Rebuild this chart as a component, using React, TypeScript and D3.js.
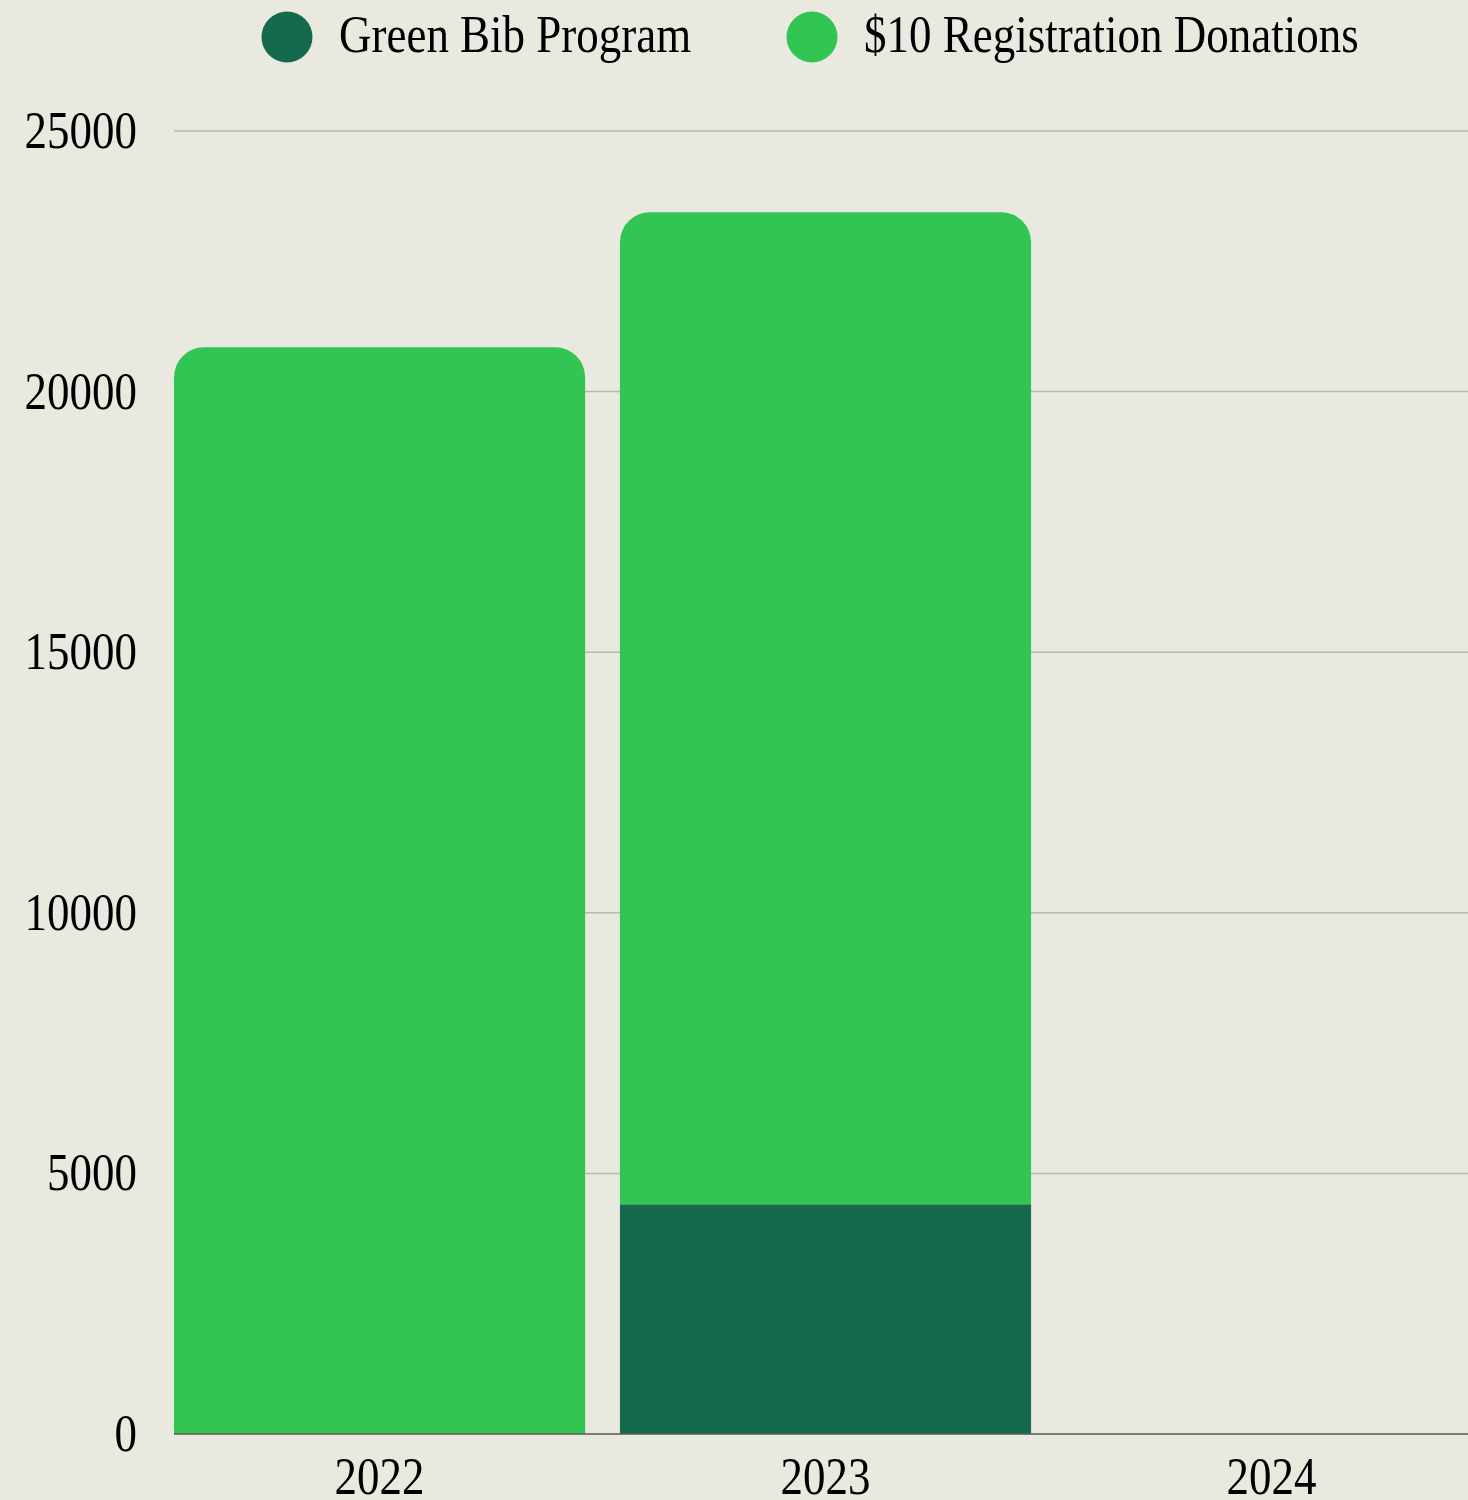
import React, { useRef, useEffect } from 'react';
import * as d3 from 'd3';

// chart values
const years = ['2022', '2023', '2024'];
const greenBib = [0, 4410, 0];
const registration = [20850, 19030, 0];
const yTicks = [0, 5000, 10000, 15000, 20000, 25000];
const seriesNames = ['Green Bib Program', '$10 Registration Donations'];
const seriesColors = ['#15694c', '#32c553'];

const W = 1468;
const H = 1500;
const FONT = '"Liberation Serif", "Times New Roman", serif';
const SQUEEZE = 0.865;

const App: React.FC = () => {
  const ref = useRef<SVGSVGElement>(null);

  useEffect(() => {
    if (!ref.current) return;
    const svg = d3.select(ref.current);
    svg.selectAll('*').remove();

    const left = 174;
    const top = 131;
    const bottom = 1434;

    svg.append('rect').attr('width', W).attr('height', H).attr('fill', '#e9e9e0');

    const x = d3.scaleBand<string>()
      .domain(years)
      .range([left, 1477])
      .paddingInner(0.078)
      .paddingOuter(0);

    const y = d3.scaleLinear().domain([0, 25000]).range([bottom, top]);

    // gridlines
    svg.append('g')
      .selectAll('line')
      .data(yTicks.filter(t => t > 0))
      .join('line')
      .attr('x1', left)
      .attr('x2', W)
      .attr('y1', d => y(d))
      .attr('y2', d => y(d))
      .attr('stroke', '#b9b9b2')
      .attr('stroke-width', 1.5);

    // y tick labels
    svg.append('g')
      .selectAll('text')
      .data(yTicks)
      .join('text')
      .attr('transform', d => `translate(137,${y(d) + 17}) scale(${SQUEEZE},1)`)
      .attr('text-anchor', 'end')
      .attr('font-family', FONT)
      .attr('font-size', 52)
      .attr('fill', '#000')
      .text(d => String(d));

    // stacked bars
    const rows = years.map((yr, i) => ({ year: yr, greenBib: greenBib[i], registration: registration[i] }));
    const stack = d3.stack<any>().keys(['greenBib', 'registration']);
    const layers = stack(rows);
    const r = 30;
    const bw = x.bandwidth();

    const barsG = svg.append('g');
    layers.forEach((layer, li) => {
      layer.forEach((seg, i) => {
        const v = seg[1] - seg[0];
        if (v <= 0) return;
        const x0 = x(years[i]) as number;
        const y0 = y(seg[0]);
        const y1 = y(seg[1]);
        // rounded top only on the topmost non-empty segment
        const isTop = layers.slice(li + 1).every(l => l[i][1] - l[i][0] <= 0);
        let d: string;
        if (isTop) {
          const rr = Math.min(r, (y0 - y1));
          d = `M${x0},${y0} L${x0},${y1 + rr} A${rr},${rr} 0 0 1 ${x0 + rr},${y1} ` +
            `L${x0 + bw - rr},${y1} A${rr},${rr} 0 0 1 ${x0 + bw},${y1 + rr} L${x0 + bw},${y0} Z`;
        } else {
          d = `M${x0},${y0} L${x0},${y1} L${x0 + bw},${y1} L${x0 + bw},${y0} Z`;
        }
        barsG.append('path').attr('d', d).attr('fill', seriesColors[li]);
      });
    });

    // baseline
    svg.append('line')
      .attr('x1', left)
      .attr('x2', W)
      .attr('y1', bottom)
      .attr('y2', bottom)
      .attr('stroke', '#5a5a55')
      .attr('stroke-width', 1.5);

    // x labels
    svg.append('g')
      .selectAll('text')
      .data(years)
      .join('text')
      .attr('transform', d => `translate(${(x(d) as number) + bw / 2},1494) scale(${SQUEEZE},1)`)
      .attr('text-anchor', 'middle')
      .attr('font-family', FONT)
      .attr('font-size', 52)
      .attr('fill', '#000')
      .text(d => d);

    // legend
    const legendX = [287, 812];
    const legend = svg.append('g');
    seriesNames.forEach((name, i) => {
      legend.append('circle')
        .attr('cx', legendX[i])
        .attr('cy', 37)
        .attr('r', 25.5)
        .attr('fill', seriesColors[i]);
      legend.append('text')
        .attr('transform', `translate(${legendX[i] + 52},52) scale(${SQUEEZE},1)`)
        .attr('font-family', FONT)
        .attr('font-size', 52)
        .attr('fill', '#000')
        .text(name);
    });
  }, []);

  return (
    <div style={{ position: 'absolute', top: 0, left: 0 }}>
      <svg ref={ref} width={W} height={H} style={{ display: 'block' }} />
    </div>
  );
};

export default App;
